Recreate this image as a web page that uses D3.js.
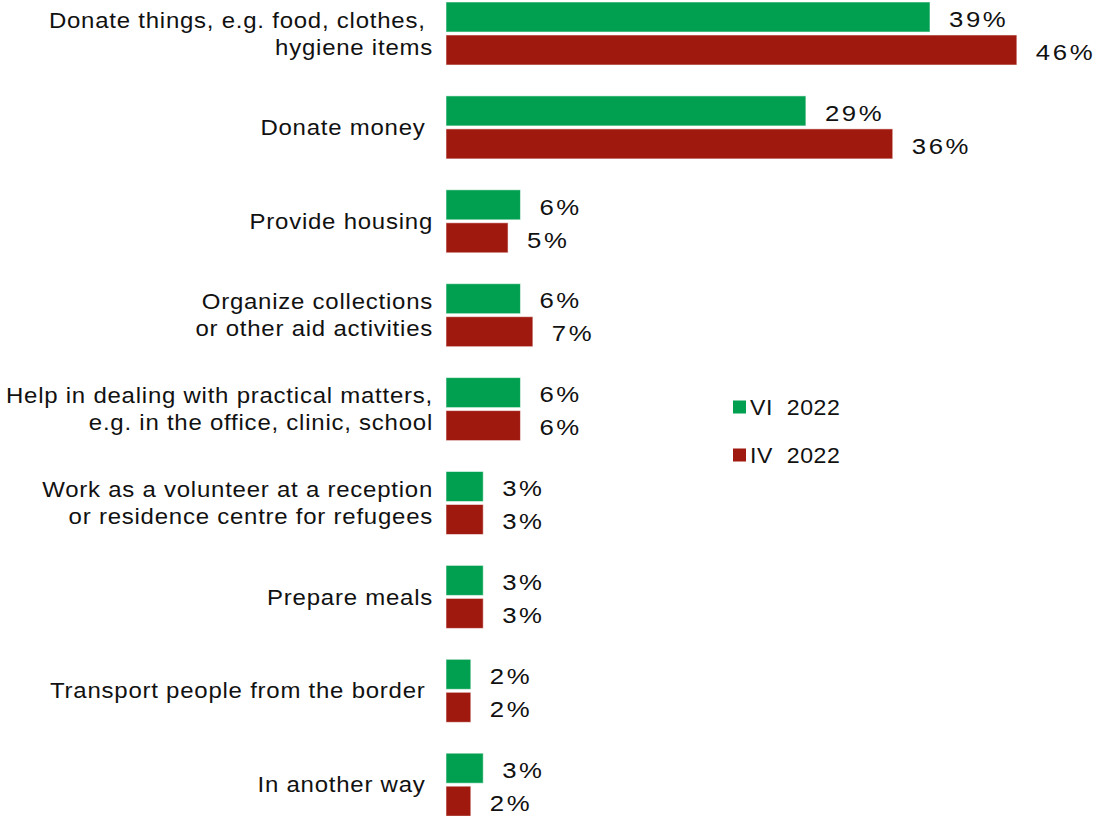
<!DOCTYPE html>
<html><head><meta charset="utf-8">
<script src="https://cdn.jsdelivr.net/npm/d3@7"></script>
<style>body{margin:0;background:#fff}svg text{font-family:"Liberation Sans",Arial,sans-serif;white-space:pre}</style>
</head><body><svg id="c" width="1096" height="816"></svg>
<script>
const categories = [
  ["Donate things, e.g. food, clothes, ", "hygiene items"],
  ["Donate money "],
  ["Provide housing"],
  ["Organize collections", "or other aid activities"],
  ["Help in dealing with practical matters,", "e.g. in the office, clinic, school"],
  ["Work as a volunteer at a reception", "or residence centre for refugees"],
  ["Prepare meals"],
  ["Transport people from the border "],
  ["In another way "]
];
const seriesNames = ["VI  2022", "IV  2022"];
const vi2022 = [39, 29, 6, 6, 6, 3, 3, 2, 3];
const iv2022 = [46, 36, 5, 7, 6, 3, 3, 2, 2];
const colors = ["#00A050", "#A0190F"];

const svg = d3.select("#c");
const keys = categories.map((c, i) => i);
const y = d3.scaleBand().domain(keys).range([2, 816.2]).paddingInner(0.329).paddingOuter(0);
const ys = d3.scaleBand().domain([0, 1]).range([0, y.bandwidth()]).paddingInner(0.09);
const x = d3.scaleLinear().domain([0, 50]).range([446, 1066.5]);
const seriesVals = [vi2022, iv2022];

function label(sel, tx, ty, size, sx, ls, anchor, str) {
  return sel.append("text")
    .attr("transform", `translate(${tx},${ty}) scale(${sx},1)`)
    .attr("text-anchor", anchor).attr("dy", "0.35em")
    .attr("font-size", size).attr("fill", "#111").attr("letter-spacing", ls)
    .text(str);
}

const g = svg.append("g");
categories.forEach((lines, i) => {
  const gy = y(i);
  seriesVals.forEach((vals, s) => {
    const by = gy + ys(s);
    g.append("rect").attr("x", x(0)).attr("y", by)
      .attr("width", x(vals[i]) - x(0)).attr("height", ys.bandwidth())
      .attr("fill", colors[s]).attr("stroke", "#fff").attr("stroke-opacity", 0.55).attr("stroke-width", 1);
    label(g, x(vals[i]) + 19, by + ys.bandwidth() / 2 + 1.7, 23, 1.12, 2.3, "start", vals[i] + "%");
  });
  const cy = gy + y.bandwidth() / 2;
  const lh = 27;
  lines.forEach((ln, k) => {
    label(g, 433, cy + (k - (lines.length - 1) / 2) * lh, 21.8, 1.1, 0.7, "end", ln);
  });
});

const leg = svg.append("g");
seriesNames.forEach((n, s) => {
  const ly = 407 + s * 48;
  leg.append("rect").attr("x", 733).attr("y", ly - 6.5).attr("width", 13).attr("height", 13).attr("fill", colors[s]);
  label(leg, 750, ly, 21.8, 1.06, 0.5, "start", n);
});
</script></body></html>
